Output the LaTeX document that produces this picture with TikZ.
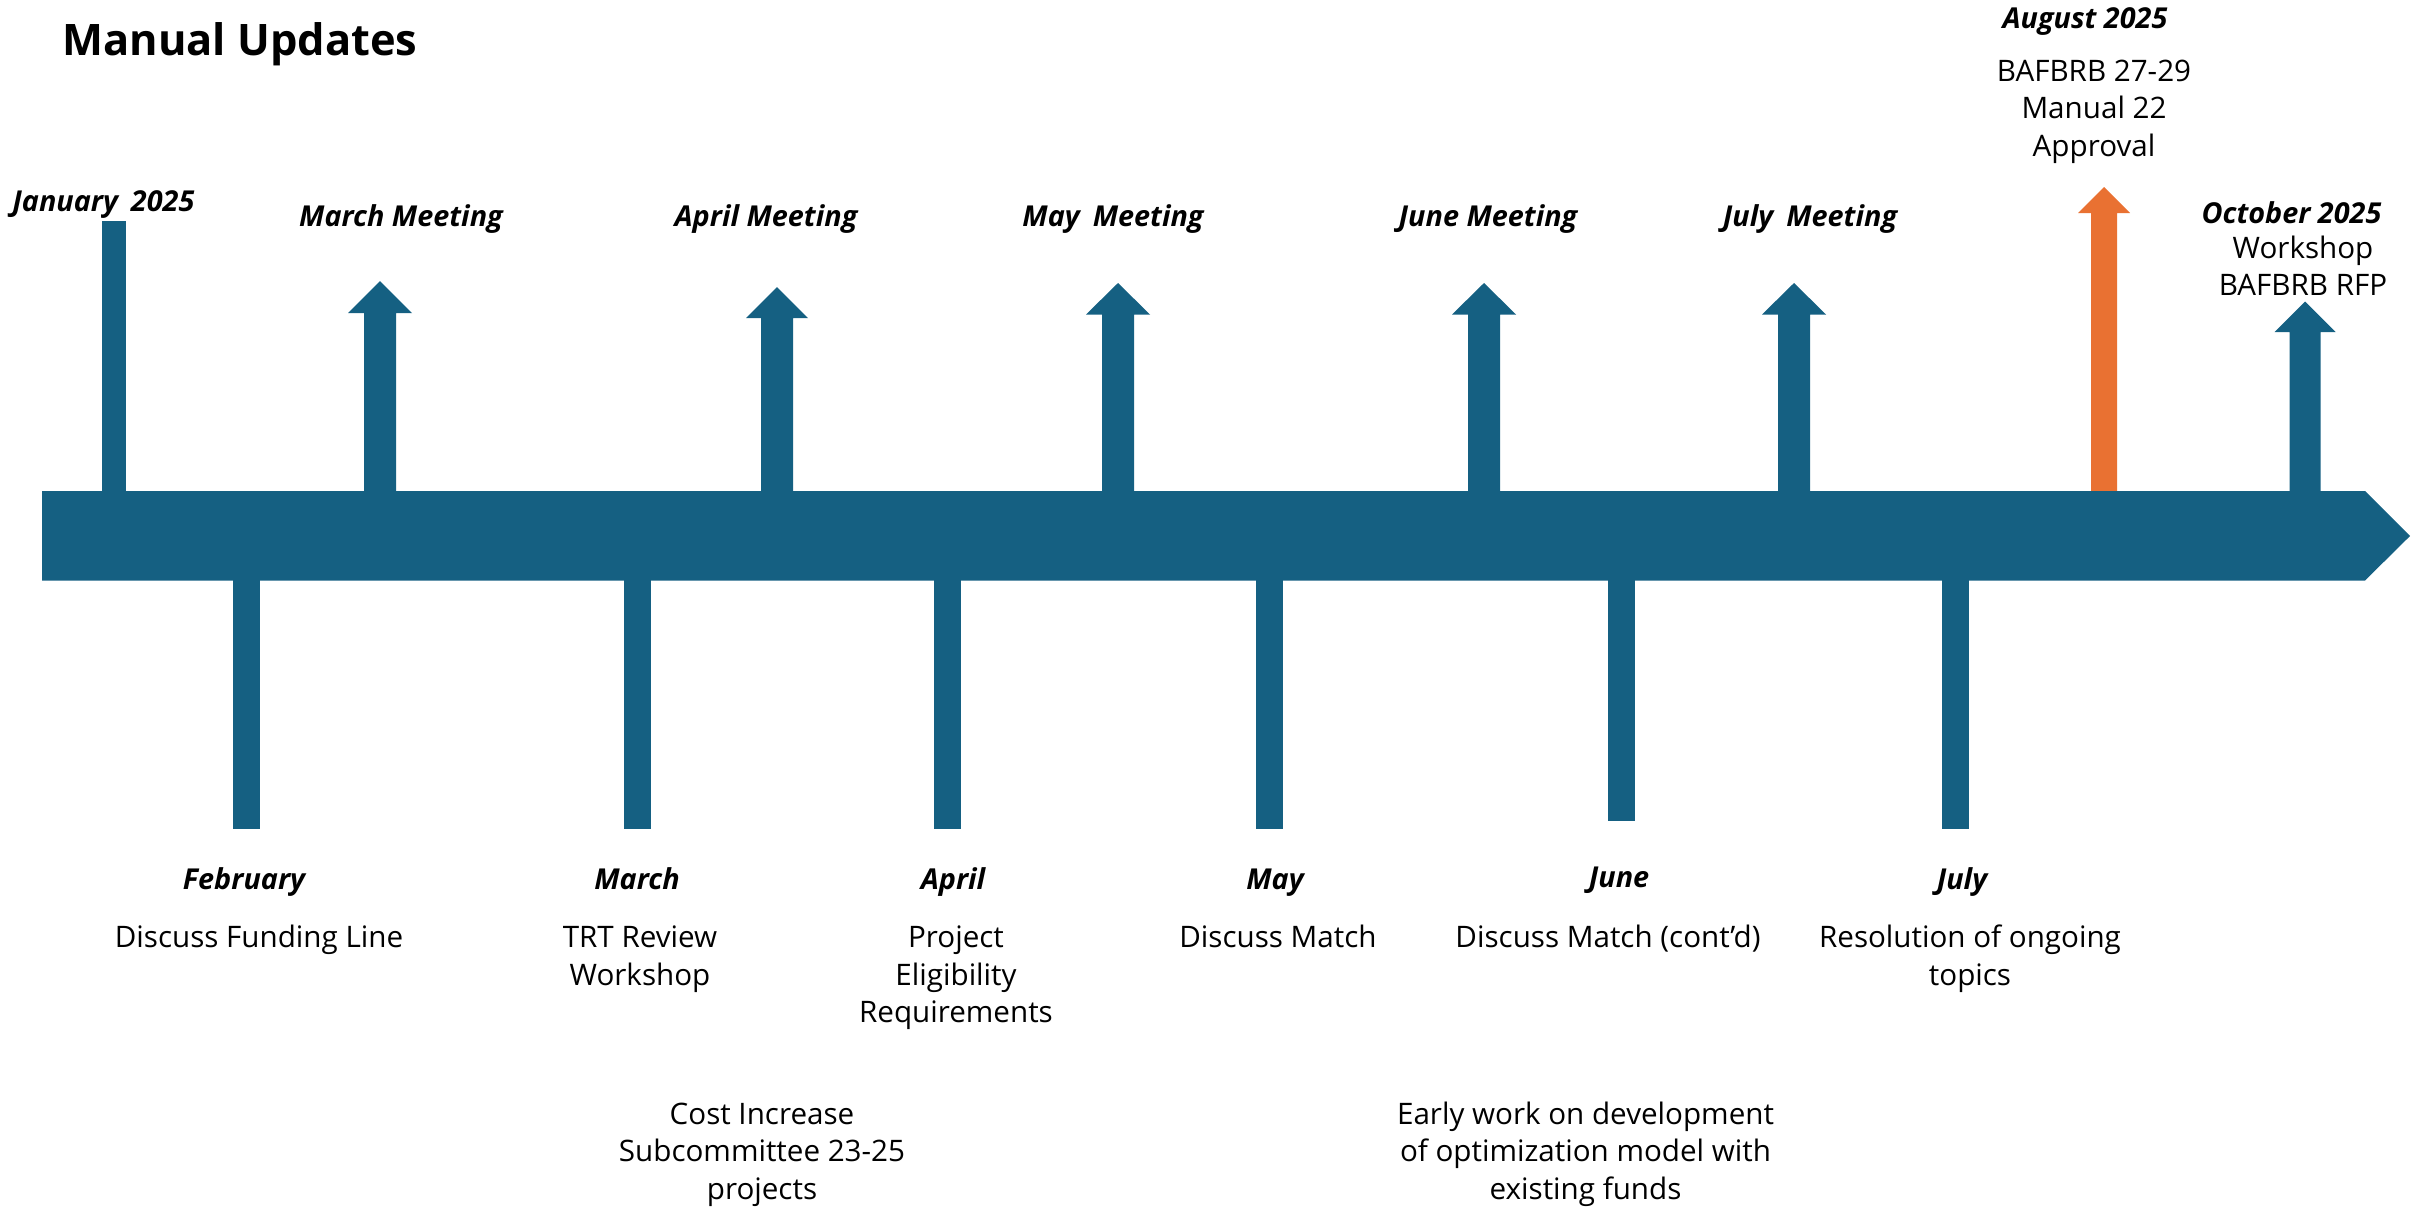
\documentclass[tikz,border=0pt]{standalone}
\usepackage{fontspec}
\setmainfont{Open Sans}
\definecolor{tlblue}{HTML}{156082}
\definecolor{tlorange}{HTML}{E97132}
% up arrow: #1 x, #2 tip y, #3 shaft half width, #4 head half width, #5 head height, #6 colour
\newcommand\TLup[6]{%
  \fill[#6] (#1-#3,500) -- (#1-#3,#2+#5) -- (#1-#4,#2+#5) -- (#1,#2)
    -- (#1+#4,#2+#5) -- (#1+#3,#2+#5) -- (#1+#3,500) -- cycle;}
% down bar: #1 x, #2 bottom y
\newcommand\TLdown[2]{\fill[tlblue] (#1-13.5,570) rectangle (#1+13.5,#2);}
% multi-line text whose baseline is that of its first line
\newcommand\ml[1]{\begin{tabular}[t]{@{}c@{}}#1\end{tabular}}
\begin{document}
\begin{tikzpicture}[x=0.5pt,y=-0.5pt,
  body/.style={font=\fontsize{14.8}{18.75}\selectfont, anchor=base, inner sep=0pt},
  month/.style={font=\fontsize{14.4}{18.75}\selectfont\bfseries\itshape, anchor=base, inner sep=0pt},
  ttl/.style={font=\fontsize{21.7}{26}\selectfont\bfseries, anchor=base west, inner sep=0pt}]
\useasboundingbox (0,0) rectangle (2415,1206);

% up markers
\fill[tlblue] (102,221) rectangle (126,500);
\TLup{380}{281}{16}{32}{32}{tlblue}
\TLup{777}{287}{16}{31}{31}{tlblue}
\TLup{1118}{283}{16}{32}{31.5}{tlblue}
\TLup{1484}{283}{16}{32}{31.5}{tlblue}
\TLup{1794}{283}{16}{32}{31.5}{tlblue}
\TLup{2104}{187}{13}{26}{26}{tlorange}
\TLup{2305}{301.5}{15.5}{30.5}{30.5}{tlblue}

% down markers
\TLdown{246}{829}
\TLdown{637}{829}
\TLdown{947}{829}
\TLdown{1269}{829}
\TLdown{1621}{820.7}
\TLdown{1955}{829}

% main timeline arrow
\fill[tlblue] (42,491) -- (2365,491) -- (2410,536) -- (2365,580.5) -- (42,580.5) -- cycle;

% title
\node[ttl] (title) at (62,55.5) {Manual Updates};

% labels above
\node[month, anchor=base west] (jan) at (12,211.6) {January\hspace{0.45em}2025};
\node[month] (marm) at (401,226.5) {March Meeting};
\node[month] (aprm) at (766,226.5) {April Meeting};
\node[month] (maym) at (1113,226.5) {May\hspace{0.45em}Meeting};
\node[month] (junm) at (1488,226.5) {June Meeting};
\node[month] (julm) at (1810,226.5) {July\hspace{0.45em}Meeting};
\node[month] (aug) at (2085,28.7) {August 2025};
\node[body] (augt) at (2094,81) {\ml{BAFBRB 27-29\\Manual 22\\Approval}};
\node[month] (oct) at (2291.5,223) {October 2025};
\node[body] (octt) at (2303,258) {\ml{Workshop\\BAFBRB RFP}};

% labels below
\node[month] (feb) at (244,889) {February};
\node[body] (febt) at (259,947.5) {Discuss Funding Line};
\node[month] (mar) at (637,889) {March};
\node[body] (mart) at (640,947.5) {\ml{TRT Review\\Workshop}};
\node[month] (apr) at (953,889) {April};
\node[body] (aprt) at (956,947.5) {\ml{Project\\Eligibility\\Requirements}};
\node[body] (cost) at (762,1124) {\ml{Cost Increase\\Subcommittee 23-25\\projects}};
\node[month] (may) at (1275,889) {May};
\node[body] (mayt) at (1278,947.5) {Discuss Match};
\node[month] (jun) at (1619,887) {June};
\node[body] (junt) at (1608,947.5) {Discuss Match (cont’d)};
\node[month] (jul) at (1962,889) {July};
\node[body] (jult) at (1970,947.5) {\ml{Resolution of ongoing\\topics}};
\node[body] (early) at (1585.5,1124) {\ml{Early work on development\\of optimization model with\\existing funds}};
\end{tikzpicture}
\end{document}
